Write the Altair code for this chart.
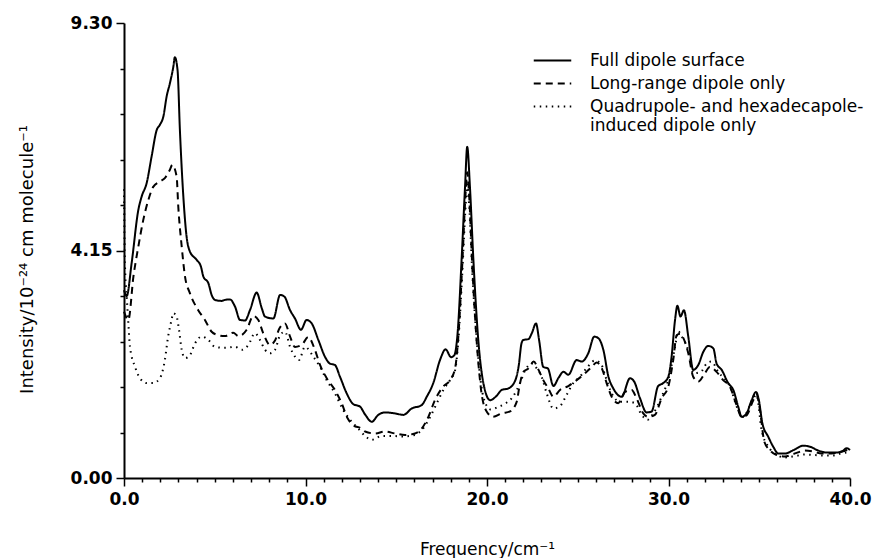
import altair as alt
import pandas as pd

# ---- data ----
full_x = [0.0, 0.15, 0.42, 0.79, 0.97, 1.25, 1.52, 1.80, 1.98, 2.17, 2.35, 2.53, 2.72, 2.80, 2.95, 3.08, 3.27, 3.45, 3.63, 4.00,
          4.24, 4.37, 4.65, 4.83, 5.01, 5.38, 5.56, 5.84, 6.12, 6.39, 6.67, 6.94, 7.31, 7.59, 7.77, 8.23, 8.60, 8.83, 9.15, 9.42,
          9.75, 10.06, 10.34, 10.71, 11.07, 11.34, 11.62, 11.90, 12.27, 12.63, 13.00, 13.28, 13.65, 14.01, 14.38, 14.93, 15.39,
          15.85, 16.40, 16.68, 17.04, 17.41, 17.72, 18.02, 18.20, 18.38, 18.60, 18.79, 18.91, 19.06, 19.25, 19.52, 19.80, 20.17,
          20.53, 20.81, 21.17, 21.54, 21.75, 21.90, 22.0, 22.29, 22.47, 22.70, 22.87, 23.10, 23.35, 23.66, 23.93, 24.21, 24.48,
          24.94, 25.22, 25.58, 25.91, 26.13, 26.41, 26.69, 26.96, 27.42, 27.88, 28.11, 28.43, 28.79, 29.07, 29.43, 29.71, 29.99,
          30.17, 30.36, 30.49, 30.66, 30.85, 31.09, 31.36, 31.64, 31.92, 32.19, 32.47, 32.65, 32.93, 33.29, 33.57, 33.84, 34.03,
          34.30, 34.58, 34.82, 34.98, 35.17, 35.50, 35.77, 36.05, 36.42, 36.88, 37.43, 37.80, 38.26, 38.72, 39.18, 39.55, 39.82, 40.0]
full_y = [3.84, 3.72, 4.39, 5.48, 5.75, 6.03, 6.57, 7.11, 7.22, 7.39, 7.80, 8.07, 8.41, 8.60, 8.34, 7.11, 5.75, 4.93, 4.63, 4.46,
          4.32, 4.12, 3.98, 3.74, 3.64, 3.62, 3.64, 3.65, 3.50, 3.23, 3.22, 3.43, 3.79, 3.47, 3.30, 3.26, 3.74, 3.71, 3.43, 3.26,
          3.03, 3.23, 3.16, 2.82, 2.48, 2.34, 2.31, 2.07, 1.73, 1.51, 1.46, 1.30, 1.15, 1.29, 1.34, 1.32, 1.29,
          1.42, 1.49, 1.66, 1.94, 2.41, 2.63, 2.47, 2.51, 2.96, 4.46, 5.95, 6.77, 5.95, 4.46, 2.82, 1.94, 1.59,
          1.68, 1.80, 1.83, 1.98, 2.30, 2.75, 2.82, 2.84, 2.96, 3.16, 2.82, 2.27, 2.24, 1.88, 2.04, 2.17, 2.11,
          2.41, 2.38, 2.55, 2.89, 2.86, 2.62, 2.07, 1.83, 1.66, 2.04, 1.97, 1.63, 1.34, 1.36, 1.88, 1.94, 2.07,
          2.48, 3.23, 3.52, 3.30, 3.43, 2.89, 2.21, 2.31, 2.58, 2.70, 2.65, 2.34, 2.21, 1.94, 1.80, 1.46, 1.25,
          1.32, 1.59, 1.76, 1.59, 1.12, 0.84, 0.64, 0.50, 0.50, 0.57, 0.66, 0.64, 0.56, 0.52, 0.52, 0.54, 0.61, 0.57]

long_x = [0.0, 0.24, 0.52, 0.79, 1.06, 1.34, 1.61, 1.98, 2.25, 2.53, 2.66, 2.90, 2.99, 3.18, 3.36, 3.63, 4.09, 4.46, 4.83, 5.19,
          5.56, 6.02, 6.30, 6.76, 7.12, 7.40, 7.67, 8.04, 8.32, 8.54, 8.87, 9.15, 9.42, 9.79, 10.15, 10.52, 10.80, 11.17, 11.62,
          11.99, 12.32, 12.63, 13.09, 13.28, 13.83, 14.38, 14.93, 15.48, 16.03, 16.40, 16.77, 17.13, 17.59, 17.96, 18.24, 18.42,
          18.64, 18.82, 18.91, 19.02, 19.19, 19.48, 19.70, 19.98, 20.34, 20.81, 21.27, 21.63, 21.80, 22.0, 22.29, 22.57, 22.84,
          23.10, 23.38, 23.66, 24.02, 24.48, 24.94, 25.40, 25.77, 26.04, 26.35, 26.59, 26.87, 27.23, 27.60, 27.97, 28.24, 28.61,
          28.89, 29.25, 29.62, 29.99, 30.26, 30.45, 30.64, 30.82, 31.09, 31.36, 31.64, 32.00, 32.28, 32.65, 33.01, 33.38, 33.75,
          34.03, 34.30, 34.67, 34.85, 35.04, 35.28, 35.58, 35.95, 36.42, 36.88, 37.52, 37.98, 38.44, 38.99, 39.55, 40.0]
long_y = [3.40, 3.23, 4.12, 4.73, 5.27, 5.68, 5.95, 6.06, 6.13, 6.30, 6.40, 6.16, 5.55, 4.73, 4.12, 3.78, 3.43, 3.23, 2.99, 2.92,
          2.90, 2.97, 2.90, 3.03, 3.31, 3.23, 2.96, 2.72, 2.81, 3.04, 3.16, 2.89, 2.68, 2.72, 2.88, 2.62, 2.31, 2.04, 1.80,
          1.53, 1.22, 1.08, 1.01, 0.95, 0.91, 0.95, 0.91, 0.88, 0.91, 1.01, 1.25, 1.59, 1.87, 2.00, 2.24, 2.89,
          4.39, 5.82, 6.25, 5.75, 4.32, 2.55, 1.73, 1.36, 1.25, 1.32, 1.36, 1.55, 1.90, 2.17, 2.24, 2.38, 2.21,
          2.00, 1.83, 1.66, 1.80, 1.88, 2.00, 2.14, 2.27, 2.36, 2.22, 1.94, 1.66, 1.53, 1.76, 1.80, 1.63, 1.32,
          1.25, 1.29, 1.63, 1.87, 2.41, 2.92, 2.95, 2.86, 2.55, 2.07, 1.97, 2.14, 2.27, 2.17, 2.00, 1.87, 1.49,
          1.25, 1.28, 1.59, 1.70, 1.39, 0.74, 0.57, 0.47, 0.44, 0.49, 0.56, 0.54, 0.50, 0.50, 0.54, 0.59]

quad_x = [0.0, 0.05, 0.15, 0.24, 0.33, 0.61, 0.88, 1.25, 1.61, 1.98, 2.25, 2.43, 2.62, 2.71, 2.90, 3.03, 3.18, 3.36, 3.63, 3.91,
          4.28, 4.65, 5.01, 5.56, 6.12, 6.49, 6.85, 7.22, 7.49, 7.77, 8.04, 8.32, 8.60, 8.87, 9.15, 9.42, 9.64, 9.97, 10.43,
          10.80, 11.17, 11.62, 12.08, 12.45, 12.91, 13.28, 13.65, 14.20, 14.75, 15.40, 16.00, 16.40, 16.80, 17.20, 17.60, 17.96,
          18.24, 18.42, 18.64, 18.82, 18.91, 19.02, 19.19, 19.48, 19.70, 19.89, 20.20, 20.60, 21.00, 21.36, 21.82, 22.10, 22.47,
          22.74, 23.01, 23.29, 23.66, 24.02, 24.39, 24.75, 25.12, 25.48, 25.94, 26.27, 26.53, 26.87, 27.33, 27.79, 28.15, 28.52,
          28.85, 29.16, 29.62, 30.08, 30.36, 30.54, 30.73, 30.90, 31.18, 31.36, 31.78, 32.10, 32.37, 32.74, 33.38, 33.84, 34.12,
          34.58, 34.85, 35.13, 35.50, 35.86, 36.40, 37.00, 37.50, 38.00, 38.50, 39.00, 39.50, 40.0]
quad_y = [5.90, 4.40, 3.71, 3.16, 2.68, 2.27, 2.04, 1.94, 1.94, 2.04, 2.41, 2.89, 3.23, 3.37, 3.30, 3.03, 2.62, 2.45, 2.51, 2.75,
          2.89, 2.82, 2.68, 2.66, 2.68, 2.62, 2.72, 2.96, 2.82, 2.62, 2.55, 2.62, 2.92, 2.99, 2.68, 2.48, 2.41, 2.68, 2.48,
          2.27, 2.00, 1.73, 1.39, 1.19, 1.01, 0.86, 0.78, 0.86, 0.86, 0.85, 0.88, 0.98, 1.20, 1.50, 1.80, 2.00,
          2.20, 2.80, 4.20, 5.55, 6.00, 5.55, 4.20, 2.60, 1.85, 1.55, 1.40, 1.45, 1.52, 1.63, 1.94, 2.20, 2.34,
          2.24, 2.07, 1.73, 1.42, 1.47, 1.70, 1.94, 2.07, 2.24, 2.40, 2.34, 2.07, 1.73, 1.56, 1.56, 1.53, 1.29,
          1.19, 1.32, 1.66, 2.14, 2.68, 3.00, 2.89, 2.79, 2.48, 2.14, 2.17, 2.34, 2.38, 2.17, 1.87, 1.39, 1.25,
          1.56, 1.70, 0.98, 0.64, 0.50, 0.42, 0.45, 0.48, 0.47, 0.46, 0.46, 0.50, 0.53]

series_names = ["Full dipole surface", "Long-range dipole only",
                "Quadrupole- and hexadecapole-induced dipole only"]
legend_lines = ["Quadrupole- and hexadecapole-", "induced dipole only"]

x_tick_values = [float(v) for v in range(0, 41)]
x_major = [0, 10, 20, 30, 40]
x_major_labels = ["0.0", "10.0", "20.0", "30.0", "40.0"]
y_tick_values = [round(i * 0.93, 3) for i in range(11)]
y_major = [0.0, 4.65, 9.30]
y_major_labels = ["0.00", "4.15", "9.30"]

FONT = "DejaVu Sans"

frames = []
for name, xs, ys in [(series_names[0], full_x, full_y),
                     (series_names[1], long_x, long_y),
                     (series_names[2], quad_x, quad_y)]:
    frames.append(pd.DataFrame({"freq": xs, "intensity": ys, "series": name}))
df = pd.concat(frames, ignore_index=True)


def label_expr(majors, labels):
    expr = "''"
    for v, lab in zip(reversed(majors), reversed(labels)):
        expr = f"abs(datum.value - {v}) < 0.01 ? '{lab}' : ({expr})"
    return expr


def major_test(majors):
    return " || ".join(f"abs(datum.value - {v}) < 0.01" for v in majors)


x_axis = alt.Axis(
    values=x_tick_values,
    labelExpr=label_expr(x_major, x_major_labels),
    tickSize={"condition": {"test": major_test(x_major), "value": 8}, "value": 4},
    labelOverlap=False, labelFlush=False, grid=False,
    labelFontSize=17, labelFontWeight="bold", labelPadding=5, labelFont=FONT,
    title="Frequency/cm⁻¹", titleFontSize=17, titleFont=FONT, titleFontWeight="normal",
    titlePadding=34,
)
y_axis = alt.Axis(
    values=y_tick_values,
    labelExpr=label_expr(y_major, y_major_labels),
    tickSize={"condition": {"test": major_test(y_major), "value": 8}, "value": 4},
    labelOverlap=False, labelFlush=False, grid=False,
    labelFontSize=17, labelFontWeight="bold", labelPadding=4, labelFont=FONT,
    title="Intensity/10⁻²⁴ cm molecule⁻¹", titleFontSize=18, titleFont=FONT, titleFontWeight="normal",
    titlePadding=34, titleY=236,
)

multi_label = (f"datum.label == '{series_names[2]}' ? "
               f"['{legend_lines[0]}', '{legend_lines[1]}'] : datum.label")

chart = alt.Chart(df).mark_line(strokeWidth=2, color="black", strokeCap="butt", interpolate="monotone").encode(
    x=alt.X("freq:Q", scale=alt.Scale(domain=[0, 40], nice=False, zero=False), axis=x_axis),
    y=alt.Y("intensity:Q", scale=alt.Scale(domain=[0, 9.30], nice=False), axis=y_axis),
    strokeDash=alt.StrokeDash(
        "series:N",
        scale=alt.Scale(domain=series_names, range=[[1, 0], [7, 5], [1.5, 4.5]]),
        legend=alt.Legend(
            orient="none", legendX=420, legendY=29, title=None,
            symbolType="M-2.5,0H2.5", symbolSize=225, symbolStrokeWidth=2,
            symbolStrokeColor="black", labelFont=FONT, labelFontSize=17,
            labelOffset=29, labelLimit=0, rowPadding=5, labelExpr=multi_label,
            padding=0,
        ),
    ),
    detail="series:N",
).properties(
    width=726, height=455,
    autosize=alt.AutoSizeParams(type="none"),
    padding={"left": 116, "top": 15, "right": 25, "bottom": 80},
).configure_view(stroke=None).configure_axis(
    domainColor="black", domainWidth=2, tickColor="black", tickWidth=1.5,
    labelColor="black", titleColor="black",
)

chart.save("out.html", embed_options={"renderer": "svg", "actions": False})
